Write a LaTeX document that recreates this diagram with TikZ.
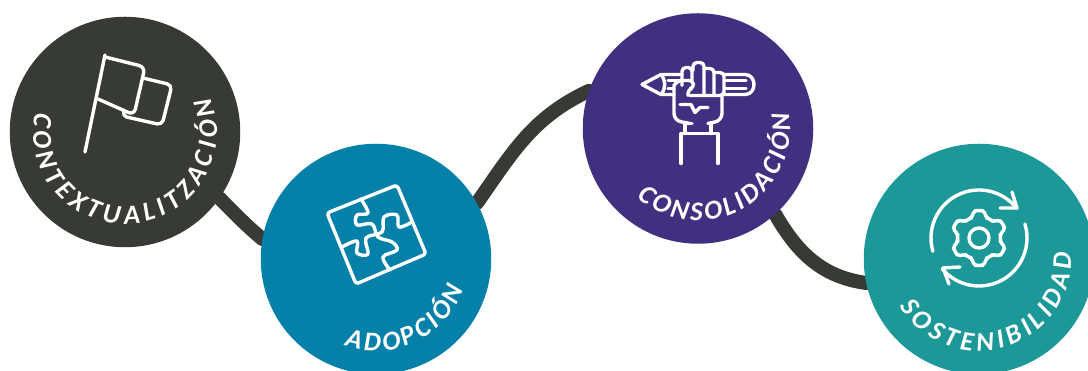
\documentclass[tikz,border=0pt]{standalone}
\usepackage{fontspec}
\usetikzlibrary{decorations.text,backgrounds}
\newfontfamily\badgefont{Carlito}
\definecolor{ctxgrey}{HTML}{383A35}
\definecolor{adopblue}{HTML}{0580A8}
\definecolor{conspurple}{HTML}{41307F}
\definecolor{sostteal}{HTML}{1C9898}
\tikzset{
badge/.style={circle, inner sep=0pt, minimum size=230.5pt},
iconline/.style={draw=white, line width=3.4pt, line cap=round, line join=round},
pathline/.style={draw=ctxgrey, line width=14pt, line cap=round},
badgetext/.style={decorate, decoration={text along path, text align={fit to path}, text={|\badgefont\bfseries\itshape\fontsize{27}{27}\selectfont\color{white}|#1}}},
}
\begin{document}
\begin{tikzpicture}[x=1pt,y=1pt]
        \useasboundingbox (0,0) rectangle (1088,371);

        \begin{scope}[shift={(125,239)}]
        \node[badge,fill=ctxgrey] at (0,0) (ctx) {};
        \draw[iconline] (-40,-20)--(-20,77);
        \draw[iconline,rounded corners=6pt] (-20,75)--(20,65)--(9,17)--(-27,33);
        \draw[iconline,rounded corners=5pt] (18,54)--(47,47)--(37,7)--(-3,16)--(-1,21);
        \path[badgetext={CONTEXTUALITZACIÓN}] (168:92) arc[start angle=168,end angle=382,radius=92pt];
        \end{scope}

        \begin{scope}[shift={(376,112)}]
        \node[badge,fill=adopblue] at (0,0) (adop) {};
        \draw[iconline,rounded corners=3pt] (-49,46)--(21,74)--(50,5)--(-20,-25)--cycle;
        \draw[iconline] plot[smooth,tension=0.6] coordinates {(-15,60) (-8,46) (-19,44) (-19,34) (-4,35) (2,22) (16,17) (21,9) (7,2) (14,-11)};
        \draw[iconline] plot[smooth,tension=0.6] coordinates {(-34,12) (-19,18) (-19,6) (-8,5) (-10,21) (6,27) (8,42) (21,44) (23,32) (36,37)};
        \path[badgetext={ADOPCIÓN}] (250:92) arc[start angle=250,end angle=341,radius=92pt];
        \end{scope}

        \begin{scope}[shift={(698,242.5)}]
        \node[badge,fill=conspurple] at (0,0) (cons) {};
        % pencil
        \draw[iconline] (-16,54)--(-37,54)--(-56,44)--(-37,34)--(-24,34);
        \draw[iconline] (-37,54)..controls (-32,48) and (-32,40)..(-37,34);
        \draw[iconline] (-30,48)--(-16,48);
        \draw[iconline] (-30,40)--(-24,40);
        \draw[iconline] (26,54)--(47,54)..controls (59,54) and (59,34)..(47,34)--(26,34);
        \draw[iconline] (27,48)--(48,48);
        \draw[iconline] (27,40)--(48,40);
        % fingers
        \draw[iconline,rounded corners=4pt] (-16,43)--(-16,61)--(-6,61)--(-6,48);
        \draw[iconline,rounded corners=4pt] (-5,58)--(-5,66)--(6,66)--(6,34);
        \draw[iconline,rounded corners=4pt] (6,60)--(16,60)--(16,34);
        \draw[iconline,rounded corners=4pt] (16,56)--(26,56)--(26,33)--(-8,33);
        % thumb and palm
        \draw[iconline,rounded corners=4pt] (-24,43)--(-20,48)--(-5,48)--(-4,41)--(-10,39)--(-10,33);
        \draw[iconline,rounded corners=7pt] (-24,43)--(-24,8)--(-8,5);
        \draw[iconline,rounded corners=7pt] (24,33)--(24,8)--(10,5);
        \draw[iconline] (-18,24)--(-7,24)--(-3,16)--(2,21)--(10,21);
        % wrist
        \draw[iconline] (-17,-35)--(-17,-5)--(20,-5)--(20,-35);
        \draw[iconline] (-13,-5)--(-13,5)--(-6,5);
        \draw[iconline] (13,-5)--(13,5)--(11,5);
        \path[badgetext={CONSOLIDACIÓN}] (228:92) arc[start angle=228,end angle=370,radius=92pt];
        \end{scope}

        \begin{scope}[shift={(979,112)}]
        \node[badge,fill=sostteal] at (0,0) (sost) {};
        \begin{scope}[shift={(0,21)}]
        \draw[iconline] (0,0) circle (10pt);
        \draw[iconline,rounded corners=2pt] plot[domain=0:360,samples=73] (\x:{24.5+max(-3,min(3,-7*cos(6*\x)))});
        \draw[iconline] (196:48) arc[start angle=196,end angle=38,radius=48pt];
        \draw[iconline] (33,46)--(38,30)--(21,30);
        \draw[iconline] (17:48) arc[start angle=17,end angle=-140,radius=48pt];
        \draw[iconline] (-19,-29)--(-36,-30)--(-30,-46);
        \end{scope}
        \path[badgetext={SOSTENIBILIDAD}] (211:92) arc[start angle=211,end angle=364,radius=92pt];
        \end{scope}

        \begin{pgfonlayer}{background}
        \draw[pathline] (ctx.-35) to[out=-45,in=140] (adop.170);
        \draw[pathline] (adop.29) to[out=55,in=205] (cons.161);
        \draw[pathline] (cons.-48) to[out=-60,in=172] (sost.192);
        \end{pgfonlayer}
    \end{tikzpicture}
\end{document}
